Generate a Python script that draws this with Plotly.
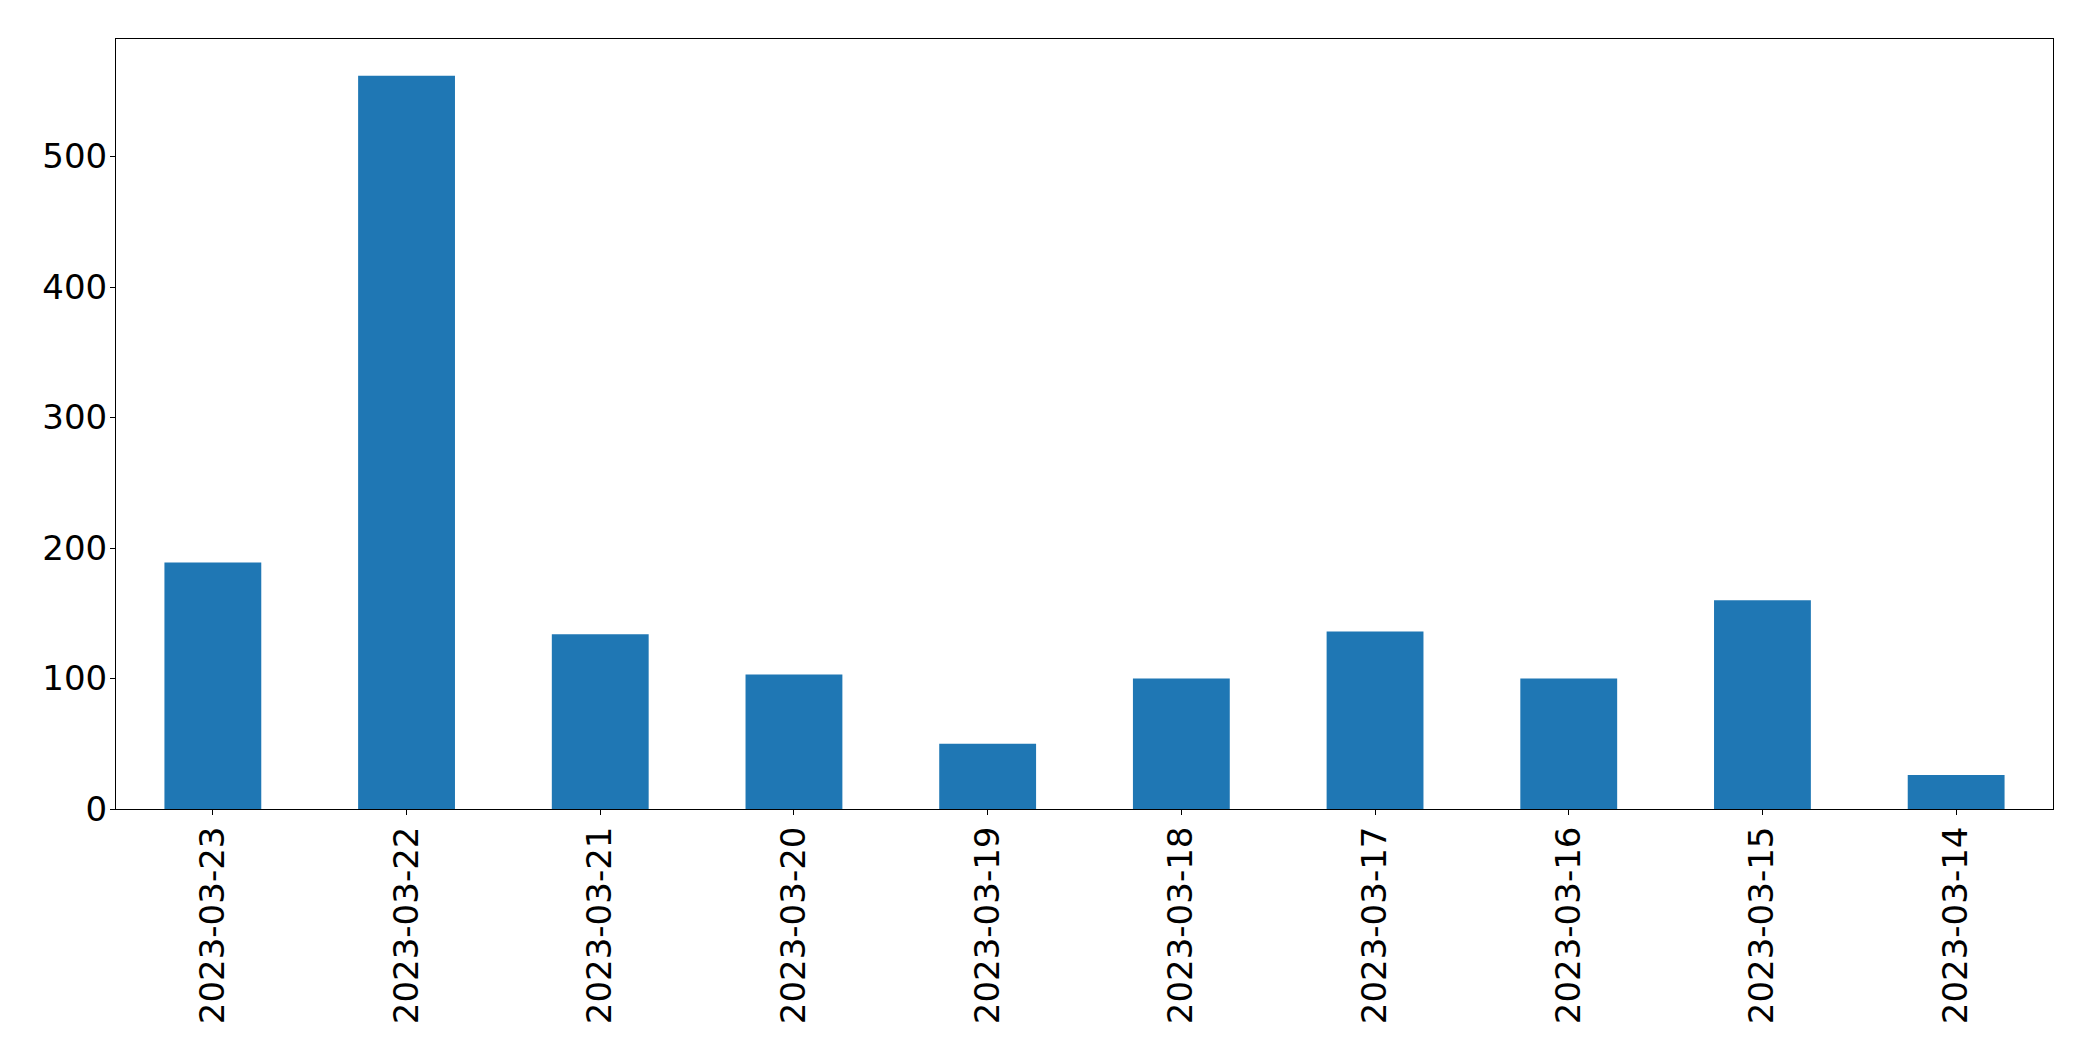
import plotly.graph_objects as go

dates = ["2023-03-23", "2023-03-22", "2023-03-21", "2023-03-20", "2023-03-19",
         "2023-03-18", "2023-03-17", "2023-03-16", "2023-03-15", "2023-03-14"]
counts = [189, 562, 134, 103, 50, 100, 136, 100, 160, 26]
y_ticks = [0, 100, 200, 300, 400, 500]

fig = go.Figure(go.Bar(x=dates, y=counts, marker=dict(color="#1f77b4", line=dict(width=0)),
                       width=0.5))

font = dict(family="DejaVu Sans", size=34, color="black")
# page body has an 8px default margin, so the figure is offset by 8px
fig.update_layout(
    width=2085, height=1053,
    margin=dict(l=108, r=40, t=31, b=252, autoexpand=False),
    plot_bgcolor="white", paper_bgcolor="white",
    showlegend=False,
    font=font,
)
fig.update_xaxes(type="category", range=[-0.5, len(dates) - 0.5], tickangle=-90,
                 showline=True, mirror=True, linecolor="black", linewidth=1,
                 ticks="outside", ticklen=5, tickcolor="black", showgrid=False,
                 tickfont=font, ticklabelstandoff=-2, automargin=False)
fig.update_yaxes(range=[0, 590.1], tickvals=y_ticks,
                 showline=True, mirror=True, linecolor="black", linewidth=1,
                 ticks="outside", ticklen=5, tickcolor="black", showgrid=False,
                 zeroline=False, tickfont=font, ticklabelstandoff=-4, automargin=False)

fig.write_html("out.html")
